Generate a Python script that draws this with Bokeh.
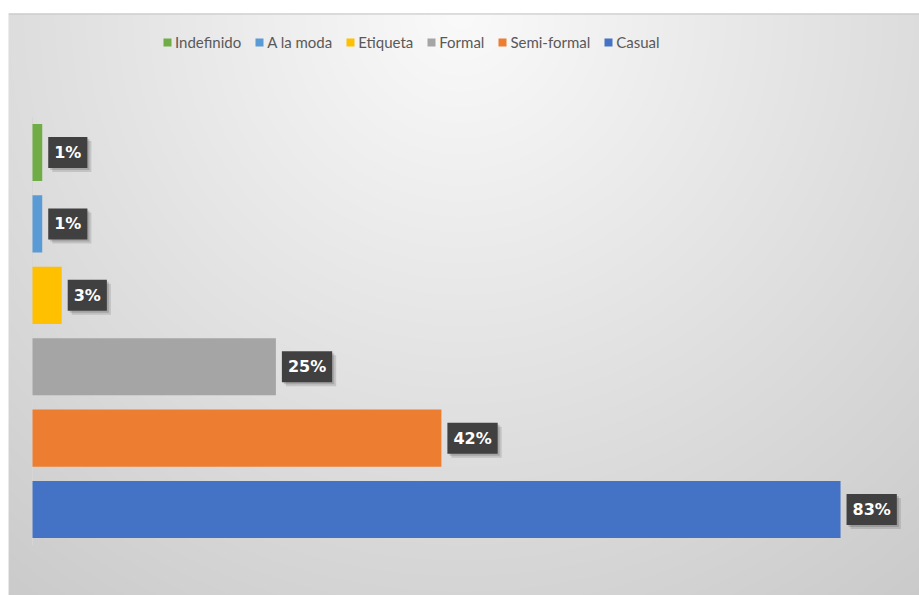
import numpy as np
from bokeh.plotting import figure
from bokeh.models import ColumnDataSource, Range1d, Span
from bokeh.core.properties import value
from bokeh.embed import file_html
from bokeh.resources import INLINE

# ---- data (top to bottom as drawn) ----
categories = ["Indefinido", "A la moda", "Etiqueta", "Formal", "Semi-formal", "Casual"]
percentages = [1, 1, 3, 25, 42, 83]
colors = ["#70AD47", "#5B9BD5", "#FFC000", "#A5A5A5", "#ED7D31", "#4472C4"]
labels = [f"{v}%" for v in percentages]
positions = list(range(len(categories) - 1, -1, -1))

W, H = 919, 595
ML, MT = 8, 13
x0, x1 = -2.465, 91.11
y0, y1 = -1.204, 6.947

p = figure(width=W, height=H, x_range=Range1d(x0, x1), y_range=Range1d(y0, y1),
           toolbar_location=None, output_backend="svg",
           min_border_left=ML, min_border_top=MT, min_border_right=0, min_border_bottom=0,
           border_fill_color="white", background_fill_color="#e6e6e6",
           outline_line_color=None)
p.axis.visible = False
p.grid.visible = False

# ---- background radial gradient ----
fw, fh = W - ML, H - MT
xx = np.arange(fw)[None, :]
yy = np.arange(fh)[:, None]
cx = 452.0
dist = np.sqrt((xx - cx) ** 2 + (yy * 1.0) ** 2)
v = np.clip(250 - 0.064 * dist, 0, 255).astype(np.uint8)
v = v[::-1, :]  # row 0 is bottom
img = np.empty((fh, fw), dtype=np.uint32)
view = img.view(dtype=np.uint8).reshape((fh, fw, 4))
view[:, :, 0] = v
view[:, :, 1] = v
view[:, :, 2] = v
view[:, :, 3] = 255
p.image_rgba(image=[img], x=x0, y=y0, dw=x1 - x0, dh=y1 - y0, level="image")

p.add_layout(Span(location=y1, dimension="width", line_color="#c4c4c4", line_width=2))

# faint category axis line
p.segment(x0=[0], x1=[0], y0=[min(positions) - 0.5], y1=[max(positions) + 0.5],
          line_color="#d6d6d6", line_width=1)

src = ColumnDataSource(dict(y=positions, value=percentages, color=colors,
                            cat=categories, label=labels))

p.hbar(y="y", left=0, right="value", height=0.8, fill_color="color",
       line_color=None, legend_field="cat", source=src)

LABEL_FONT = value("DejaVu Sans")
# label shadows
p.text(x="value", y="y", text="label", source=src, x_offset=10, y_offset=4,
       text_align="left", text_baseline="middle", text_font=LABEL_FONT,
       text_font_style="bold", text_font_size="16px", text_alpha=0,
       background_fill_color="#000000", background_fill_alpha=0.12, padding=6)
p.text(x="value", y="y", text="label", source=src, x_offset=8, y_offset=2,
       text_align="left", text_baseline="middle", text_font=LABEL_FONT,
       text_font_style="bold", text_font_size="16px", text_alpha=0,
       background_fill_color="#000000", background_fill_alpha=0.15, padding=6)
# labels
p.text(x="value", y="y", text="label", source=src, x_offset=6,
       text_align="left", text_baseline="middle", text_font=LABEL_FONT,
       text_font_style="bold", text_font_size="16px", text_color="white",
       background_fill_color="#404040", padding=6)

lg = p.legend[0]
lg.orientation = "horizontal"
lg.location = (154, 544)
lg.background_fill_alpha = 0
lg.border_line_color = None
lg.glyph_width = 10
lg.glyph_height = 10
lg.label_standoff = 3
lg.spacing = 13
lg.padding = 0
lg.margin = 0
lg.label_text_font = "Lato"
lg.label_text_font_size = "15px"
lg.label_text_color = "#595959"

open("out.html", "w").write(file_html(p, INLINE))
